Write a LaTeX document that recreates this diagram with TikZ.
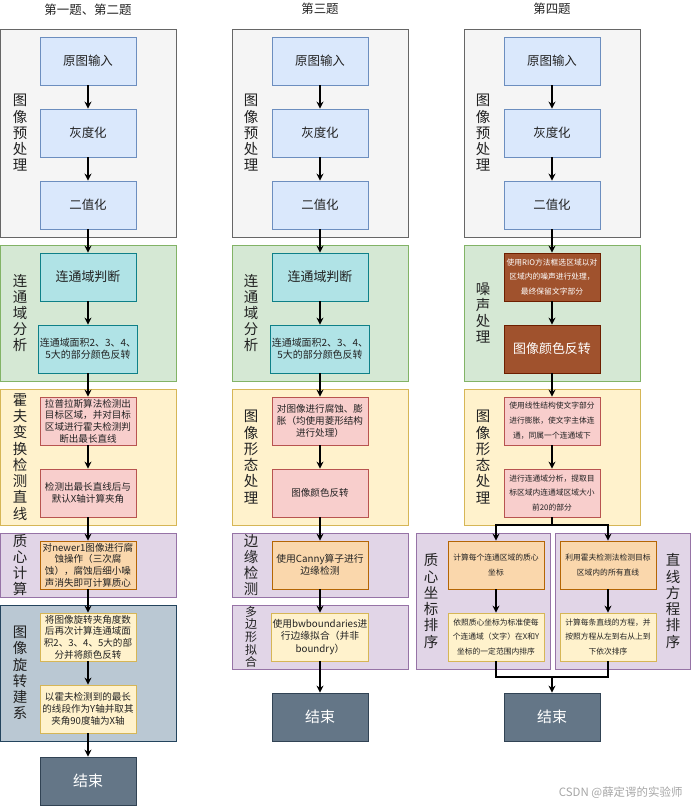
\documentclass[tikz,border=0pt]{standalone}
\usepackage{fontspec}
\setmainfont{Noto Sans CJK SC}
\usetikzlibrary{arrows.meta}
\definecolor{txt}{HTML}{222222}
\definecolor{grayf}{HTML}{F5F5F5}\definecolor{grayd}{HTML}{666666}
\definecolor{bluef}{HTML}{DAE8FC}\definecolor{blued}{HTML}{6C8EBF}
\definecolor{greenf}{HTML}{D5E8D4}\definecolor{greend}{HTML}{82B366}
\definecolor{cyanf}{HTML}{B0E3E6}\definecolor{cyand}{HTML}{0E8088}
\definecolor{yellowf}{HTML}{FFF2CC}\definecolor{yellowd}{HTML}{D6B656}
\definecolor{pinkf}{HTML}{F8CECC}\definecolor{pinkd}{HTML}{B85450}
\definecolor{purplef}{HTML}{E1D5E7}\definecolor{purpled}{HTML}{9673A6}
\definecolor{orangef}{HTML}{FAD7AC}\definecolor{oranged}{HTML}{B46504}
\definecolor{steelf}{HTML}{BAC8D3}\definecolor{steeld}{HTML}{23445D}
\definecolor{endf}{HTML}{647687}\definecolor{endd}{HTML}{314354}
\definecolor{brownf}{HTML}{A0522D}\definecolor{brownd}{HTML}{6D1F00}
\newcommand\fs[2]{\fontsize{#1}{#2}\selectfont}

\begin{document}
\begin{tikzpicture}[x=1bp,y=-1bp,>={Stealth[length=7bp,width=7bp]},
	box/.style={draw, line width=0.8bp, minimum width=96bp, minimum height=48bp, inner sep=1bp, align=center, text=txt},
	bluebox/.style={box, fill=bluef, draw=blued, font=\fs{12.5}{15}},
	cyanbox/.style={box, fill=cyanf, draw=cyand, font=\fs{10}{12}},
	pinkbox/.style={box, fill=pinkf, draw=pinkd, font=\fs{9.6}{11.7}},
	orangebox/.style={box, fill=orangef, draw=oranged, font=\fs{9.6}{11.7}},
	paleybox/.style={box, fill=yellowf, draw=yellowd, font=\fs{9.6}{11.7}},
	brownbox/.style={box, fill=brownf, draw=brownd, text=white, font=\fs{7.8}{15}},
	endbox/.style={box, fill=endf, draw=endd, text=white, font=\fs{15}{18}},
	small/.style={font=\fs{7.8}{15}},
	zone/.style={line width=0.8bp},
	lbl/.style={align=center, inner sep=0, text=txt, font=\fs{14.5}{16.3}},
	ttl/.style={text=txt, font=\fs{12.5}{15}},
	link/.style={->, line width=1.2bp}]
	\useasboundingbox (0,0) rectangle (692,806);
	% titles
	\node[ttl] (t1) at (88,10) {第一题、第二题};
	\node[ttl] (t2) at (320,9) {第三题};
	\node[ttl] (t3) at (552,9) {第四题};
	% group areas
	\draw[zone, fill=grayf, draw=grayd] (0,29) rectangle (176,237);
	\draw[zone, fill=greenf, draw=greend] (0,245) rectangle (176,381);
	\draw[zone, fill=yellowf, draw=yellowd] (0,389) rectangle (176,525);
	\draw[zone, fill=purplef, draw=purpled] (0,533) rectangle (176,597);
	\draw[zone, fill=steelf, draw=steeld] (0,605) rectangle (176,741);
	\draw[zone, fill=grayf, draw=grayd] (232,29) rectangle (408,237);
	\draw[zone, fill=greenf, draw=greend] (232,245) rectangle (408,381);
	\draw[zone, fill=yellowf, draw=yellowd] (232,389) rectangle (408,525);
	\draw[zone, fill=purplef, draw=purpled] (232,533) rectangle (408,597);
	\draw[zone, fill=purplef, draw=purpled] (232,605) rectangle (408,669);
	\draw[zone, fill=grayf, draw=grayd] (464,29) rectangle (640,237);
	\draw[zone, fill=greenf, draw=greend] (464,245) rectangle (640,381);
	\draw[zone, fill=yellowf, draw=yellowd] (464,389) rectangle (640,525);
	\draw[zone, fill=purplef, draw=purpled] (416,533) rectangle (550,669);
	\draw[zone, fill=purplef, draw=purpled] (555,533) rectangle (690,669);
	% group labels
	\node[lbl] (g1a) at (20,133) {图\\像\\预\\处\\理};
	\node[lbl] (g1b) at (20,313) {连\\通\\域\\分\\析};
	\node[lbl] (g1c) at (20,457) {霍\\夫\\变\\换\\检\\测\\直\\线};
	\node[lbl] (g1d) at (20,565) {质\\心\\计\\算};
	\node[lbl] (g1e) at (20,673) {图\\像\\旋\\转\\建\\系};
	\node[lbl] (g2a) at (251,133) {图\\像\\预\\处\\理};
	\node[lbl] (g2b) at (251,313) {连\\通\\域\\分\\析};
	\node[lbl] (g2c) at (251,457) {图\\像\\形\\态\\处\\理};
	\node[lbl] (g2d) at (251,565) {边\\缘\\检\\测};
	\node[lbl, font=\fs{12}{12.7}] (g2e) at (251,637) {多\\边\\形\\拟\\合};
	\node[lbl] (g3a) at (483,133) {图\\像\\预\\处\\理};
	\node[lbl] (g3b) at (483,313) {噪\\声\\处\\理};
	\node[lbl] (g3c) at (483,457) {图\\像\\形\\态\\处\\理};
	\node[lbl] (g3d) at (431,601) {质\\心\\坐\\标\\排\\序};
	\node[lbl] (g3e) at (673,601) {直\\线\\方\\程\\排\\序};
	% first and second
	\node[bluebox] (a1) at (88,61) {原图输入};
	\node[bluebox] (a2) at (88,133) {灰度化};
	\node[bluebox] (a3) at (88,205) {二值化};
	\node[cyanbox, font=\fs{13}{15}] (a4) at (88,277) {连通域判断};
	\node[cyanbox] (a5) at (88,349) {连通域面积2、3、4、\\5大的部分颜色反转};
	\node[pinkbox] (a6) at (88,421) {拉普拉斯算法检测出\\目标区域，并对目标\\区域进行霍夫检测判\\断出最长直线};
	\node[pinkbox] (a7) at (88,493) {检测出最长直线后与\\默认X轴计算夹角};
	\node[orangebox] (a8) at (88,565) {对newer1图像进行腐\\蚀操作（三次腐\\蚀），腐蚀后细小噪\\声消失即可计算质心};
	\node[paleybox] (a9) at (88,637) {将图像旋转夹角度数\\后再次计算连通域面\\积2、3、4、5大的部\\分并将颜色反转};
	\node[paleybox] (a10) at (88,709) {以霍夫检测到的最长\\的线段作为Y轴并取其\\夹角90度轴为X轴};
	\node[endbox] (aend) at (88,781) {结束};
	\draw[link] (a1) -- (a2);
	\draw[link] (a2) -- (a3);
	\draw[link] (a3) -- (a4);
	\draw[link] (a4) -- (a5);
	\draw[link] (a5) -- (a6);
	\draw[link] (a6) -- (a7);
	\draw[link] (a7) -- (a8);
	\draw[link] (a8) -- (a9);
	\draw[link] (a9) -- (a10);
	\draw[link] (a10) -- (aend);
	% third
	\node[bluebox] (b1) at (320,61) {原图输入};
	\node[bluebox] (b2) at (320,133) {灰度化};
	\node[bluebox] (b3) at (320,205) {二值化};
	\node[cyanbox, font=\fs{13}{15}] (b4) at (320,277) {连通域判断};
	\node[cyanbox] (b5) at (320,349) {连通域面积2、3、4、\\5大的部分颜色反转};
	\node[pinkbox] (b6) at (320,421) {对图像进行腐蚀、膨\\胀（均使用菱形结构\\进行处理）};
	\node[pinkbox] (b7) at (320,493) {图像颜色反转};
	\node[orangebox, font=\fs{9.8}{12.3}] (b8) at (320,565) {使用Canny算子进行\\边缘检测};
	\node[paleybox, font=\fs{9.8}{12.3}] (b9) at (320,637) {使用bwboundaries进\\行边缘拟合（并非\\boundry）};
	\node[endbox] (bend) at (320,717) {结束};
	\draw[link] (b1) -- (b2);
	\draw[link] (b2) -- (b3);
	\draw[link] (b3) -- (b4);
	\draw[link] (b4) -- (b5);
	\draw[link] (b5) -- (b6);
	\draw[link] (b6) -- (b7);
	\draw[link] (b7) -- (b8);
	\draw[link] (b8) -- (b9);
	\draw[link] (b9) -- (bend);
	% fourth
	\node[bluebox] (c1) at (552,61) {原图输入};
	\node[bluebox] (c2) at (552,133) {灰度化};
	\node[bluebox] (c3) at (552,205) {二值化};
	\node[brownbox] (c4) at (552,277) {使用RIO方法框选区域以对\\区域内的噪声进行处理，\\最终保留文字部分};
	\node[brownbox, font=\fs{13}{15}] (c5) at (552,349) {图像颜色反转};
	\node[pinkbox, small] (c6) at (552,421) {使用线性结构使文字部分\\进行膨胀，使文字主体连\\通，同属一个连通域下};
	\node[pinkbox, small] (c7) at (552,493) {进行连通域分析，提取目\\标区域内连通域区域大小\\前20的部分};
	\node[orangebox, small] (c8) at (496,565) {计算每个连通区域的质心\\坐标};
	\node[paleybox, small] (c9) at (496,637) {依照质心坐标为标准使每\\个连通域（文字）在X和Y\\坐标的一定范围内排序};
	\node[orangebox, small] (c10) at (608,565) {利用霍夫检测法检测目标\\区域内的所有直线};
	\node[paleybox, small] (c11) at (608,637) {计算每条直线的方程，并\\按照方程从左到右从上到\\下依次排序};
	\node[endbox] (cend) at (552,717) {结束};
	\coordinate (split) at (552,525);
	\coordinate (join) at (552,677);
	\draw[link] (c1) -- (c2);
	\draw[link] (c2) -- (c3);
	\draw[link] (c3) -- (c4);
	\draw[link] (c4) -- (c5);
	\draw[link] (c5) -- (c6);
	\draw[link] (c6) -- (c7);
	\draw[line width=1.2bp] (c7) -- (split);
	\draw[link] (split) -| (c8);
	\draw[link] (split) -| (c10);
	\draw[link] (c8) -- (c9);
	\draw[link] (c10) -- (c11);
	\draw[line width=1.2bp] (c9) |- (join);
	\draw[line width=1.2bp] (c11) |- (join);
	\draw[link] (join) -- (cend);
	% watermark
	\node[text=black!35, font=\fs{11.5}{14}, anchor=east] (wm) at (686,793) {CSDN @薛定谔的实验师};
\end{tikzpicture}
\end{document}
